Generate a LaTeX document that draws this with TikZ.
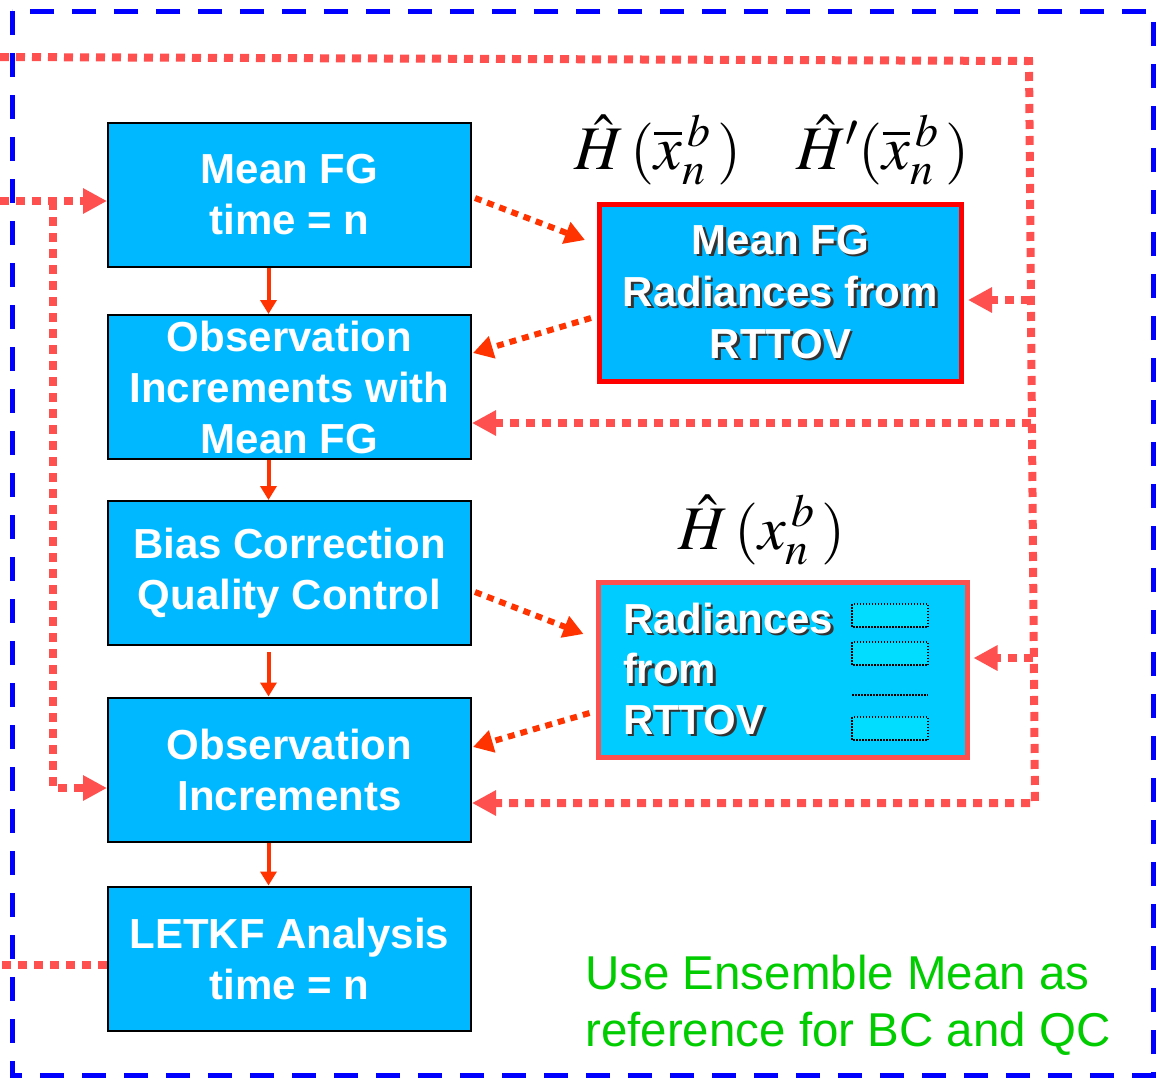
\documentclass[tikz,border=0pt]{standalone}
\usepackage{mathptmx}
\usepackage{fontspec}
\setmainfont{Liberation Sans}
\usetikzlibrary{arrows.meta,calc}
\definecolor{boxfill}{HTML}{00B8FF}
\definecolor{boxfillb}{HTML}{00CCFF}
\definecolor{smallfill}{HTML}{00DDFF}
\definecolor{dotred}{HTML}{FF5050}
\definecolor{arrred}{HTML}{FF3300}
\definecolor{greentext}{HTML}{00CC00}
\definecolor{frameblue}{HTML}{0000FF}
\newcommand{\shtext}[1]{\leavevmode\rlap{\kern2.5pt\raisebox{-2.5pt}{\textcolor{black!80}{#1}}}#1}
\tikzset{
  flowbox/.style={draw=black, line width=2pt, fill=boxfill, minimum width=363pt,
    minimum height=144pt, inner sep=0pt, text=white,
    font=\fontsize{42}{51}\selectfont\bfseries, align=center},
  rttovbox/.style={draw=red, line width=5pt, fill=boxfill, minimum width=362pt,
    minimum height=177pt, inner sep=0pt, text=white,
    font=\fontsize{42}{52}\selectfont\bfseries, align=center},
  rttovboxb/.style={draw=dotred, line width=5pt, fill=boxfillb, minimum height=175pt,
    text width=319pt, inner xsep=25pt, inner ysep=0pt, text=white,
    font=\fontsize{42}{50.5}\selectfont\bfseries, align=left},
  dotline/.style={dotred, line width=8pt, dash pattern=on 9pt off 7pt},
  dotarrow/.style={dotline, -{Triangle[length=24pt,width=24pt]}},
  diagarrow/.style={arrred, line width=6pt, dash pattern=on 7pt off 6pt,
    -{Triangle[length=20pt,width=22pt]}},
  solidarrow/.style={arrred, line width=4pt, -{Triangle[length=14pt,width=16pt]}},
  formula/.style={inner sep=0pt, font=\fontsize{62}{62}\selectfont},
  smallbox/.style={draw=black, line width=1.2pt, dash pattern=on 1.5pt off 1.5pt, fill=smallfill},
}
\begin{document}
\begin{tikzpicture}[x=1pt,y=-1pt]
\useasboundingbox (0,0) rectangle (1157,1080);
% outer blue frame
\draw[frameblue, line width=5pt, dash pattern=on 24pt off 18pt] (12,11) rectangle (1153,1075);

% main flow boxes
\node[flowbox] (b1) at (289.5,195) {Mean FG\\time = n};
\node[flowbox] (b2) at (289.5,387) {Observation\\Increments with\\Mean FG};
\node[flowbox] (b3) at (289.5,573) {Bias Correction\\Quality Control};
\node[flowbox] (b4) at (289.5,769.5) {Observation\\Increments};
\node[flowbox] (b5) at (289.5,958.5) {LETKF Analysis\\time = n};

% RTTOV boxes
\node[rttovbox] (rb1) at (780.5,293) {\shtext{Mean FG}\\\shtext{Radiances from}\\\shtext{RTTOV}};
\node[rttovboxb] (rb2) at (782.5,670) {\shtext{Radiances}\\\shtext{from}\\\shtext{RTTOV}};
\draw[smallbox] (852,604) rectangle (928,627);
\draw[smallbox] (852,642) rectangle (928,665);
\draw[black, line width=1.2pt, dash pattern=on 1.5pt off 1.5pt] (852,695) -- (928,695);
\draw[smallbox] (852,717) rectangle (928,740);

% formulas
\node[formula] (f1) at (658,150) {$\hat{H}\,(\overline{x}_{n}^{\,b}\,)$};
\node[formula] (f2) at (883,150) {$\hat{H}'(\overline{x}_{n}^{\,b}\,)$};
\node[formula] (f3) at (762,530) {$\hat{H}\,(x_{n}^{\,b}\,)$};

% green note
\node[anchor=north west, inner sep=0pt, text=greentext, align=left,
  font=\fontsize{47.5}{57}\selectfont] (note) at (585,955)
  {Use Ensemble Mean as\\reference for BC and QC};

% solid arrows
\draw[solidarrow] ($(b1.south)+(-21,0)$) -- ($(b2.north)+(-21,0)$);
\draw[solidarrow] ($(b2.south)+(-21,0)$) -- ($(b3.north)+(-21,0)$);
\draw[solidarrow] ($(b3.south)+(-21,6)$) -- ($(b4.north)+(-21,0)$);
\draw[solidarrow] ($(b4.south)+(-21,0)$) -- ($(b5.north)+(-21,0)$);

% diagonal dotted arrows
\draw[diagarrow] ($(b1.east)+(3,3)$) -- ($(rb1.west)+(-12,-53)$);
\draw[diagarrow] ($(rb1.west)+(-6,25)$) -- ($(b2.east)+(1,-34)$);
\draw[diagarrow] ($(b3.east)+(3,19)$) -- ($(rb2.west)+(-12,-36)$);
\draw[diagarrow] ($(rb2.west)+(-6,43)$) -- ($(b4.east)+(1,-22.5)$);

% feedback loop on the right
\coordinate (tl) at (0,57);
\coordinate (tr) at (1029,61);
\coordinate (r1) at (1030,300);
\coordinate (r2) at (1031,423);
\coordinate (r3) at (1033,658);
\coordinate (br) at (1035,803);
\draw[dotarrow] (tl) -- (tr) -- (br) -- (b4.east |- br);
\draw[dotarrow, shorten >=4pt] (r1) -- (rb1.east |- r1);
\draw[dotarrow] (r2) -- (b2.east |- r2);
\draw[dotarrow, shorten >=4pt] (r3) -- (rb2.east |- r3);

% left side inputs
\coordinate (la) at (0,201);
\coordinate (lj) at (53,201);
\coordinate (lk) at (53,788);
\coordinate (lb) at (0,965);
\draw[dotarrow] (la) -- (b1.west |- la);
\draw[dotarrow] (lj) -- (lk) -- (b4.west |- lk);
\draw[dotline] (b5.west |- lb) -- (lb);
\end{tikzpicture}
\end{document}
